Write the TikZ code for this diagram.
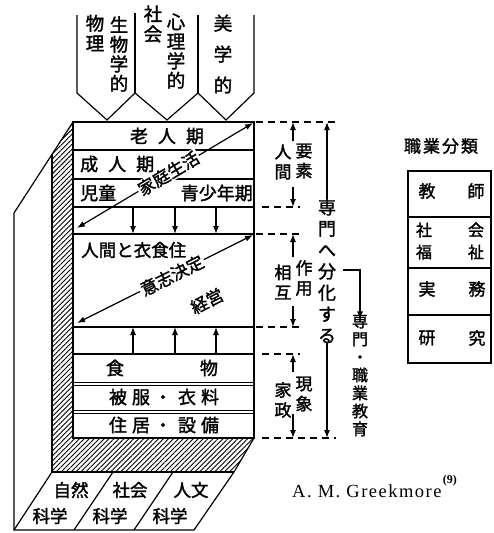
\documentclass[tikz,border=0pt]{standalone}
\usepackage{fontspec}
\setmainfont{Liberation Serif}
\newfontfamily\jp{Noto Sans CJK JP}[FakeBold=1.7]
\usetikzlibrary{arrows.meta,patterns.meta}
\begin{document}
\begin{tikzpicture}[x=1pt,y=-1pt,
  ln/.style={line width=1.2pt},
  jt/.style={font=\jp\fontsize{18}{20}\selectfont, inner sep=0pt},
  vt/.style={font=\jp\fontsize{17}{20}\selectfont, align=center, inner sep=0pt},
  arr/.style={line width=1.2pt, -{Latex[length=8pt,width=6pt]}},
  darr/.style={line width=1.2pt, {Latex[length=8pt,width=6pt]}-{Latex[length=8pt,width=6pt]}},
  dsh/.style={line width=1.2pt, dash pattern=on 7pt off 5pt},
  hatch/.style={pattern={Lines[angle=45,distance=3.5pt,line width=0.9pt]}}]
\useasboundingbox (0,0) rectangle (493,533);

% ---- hatched frame
\fill[hatch] (73,122) -- (52,154) -- (52,472) -- (234,472) -- (254,438) -- (73,438) -- cycle;
\draw[ln] (73,122) -- (14,213) -- (14,530) -- (194,530) -- (234,472) -- (254,438);
\draw[ln] (52,154) -- (52,472) -- (234,472);

% ---- inner box
\draw[ln] (73,122) -- (254,122) -- (254,438) -- (73,438) -- cycle;
\foreach \yy in {150,179,207,234,327,354} \draw[ln] (73,\yy) -- (254,\yy);
\foreach \yy in {382,385,410,413} \draw[line width=1pt] (73,\yy) -- (254,\yy);

% ---- top flags
\draw[ln] (77,15) -- (77,93) -- (107,120) -- (135,93) -- (167,120) -- (198,93) -- (226,120) -- (254,93) -- (254,15);
\draw[ln] (135,13) -- (135,93);
\draw[ln] (198,15) -- (198,93);
\node[vt,font=\jp\fontsize{18.5}{20}\selectfont] (p1) at (95,33) {物\\理};
\node[vt,font=\jp\fontsize{18.5}{19.5}\selectfont] (p2) at (119,54) {生\\物\\学\\的};
\node[vt,font=\jp\fontsize{18.5}{20}\selectfont] (p3) at (153,24) {社\\会};
\node[vt,font=\jp\fontsize{18.5}{19.5}\selectfont] (p4) at (176,51) {心\\理\\学\\的};
\node[vt,font=\jp\fontsize{18.5}{31}\selectfont] (p5) at (223,54) {美\\学\\的};

% ---- row texts
\node[jt] (r1) at (167,136) {老\hspace{10pt}人\hspace{10pt}期};
\node[jt,anchor=west] (r2) at (80,164) {成\hspace{10pt}人\hspace{10pt}期};
\node[jt,anchor=west] (r3a) at (80,193) {児童};
\node[jt,anchor=east] (r3b) at (253,193) {青少年期};
\node[jt,anchor=west,font=\jp\fontsize{17.5}{20}\selectfont] (r4) at (81,250) {人間と衣食住};
\node[jt] (r5a) at (115,368) {食};
\node[jt] (r5b) at (209,368) {物};
\node[jt] (r6) at (164,397) {被\hspace{5pt}服\hspace{4pt}・\hspace{6pt}衣\hspace{5pt}料};
\node[jt] (r7) at (164,425) {住\hspace{5pt}居\hspace{4pt}・\hspace{6pt}設\hspace{5pt}備};

% ---- diagonal arrows
\coordinate (d1a) at (77,228); \coordinate (d1b) at (253,123);
\draw[darr] (d1a) -- node[pos=0.52,sloped,fill=white,jt,inner sep=1pt,font=\jp\fontsize{17}{20}\selectfont] (t1) {家庭生活} (d1b);
\coordinate (d2a) at (77,323); \coordinate (d2b) at (253,235);
\draw[darr] (d2a) -- node[pos=0.54,sloped,fill=white,jt,inner sep=1.5pt,font=\jp\fontsize{17}{20}\selectfont] (t2) {意志決定} (d2b);
\node[jt,rotate=27,font=\jp\fontsize{17}{20}\selectfont] (t3) at (207,301) {経営};

% ---- vertical small arrows
\foreach \xx [count=\i] in {133,175,216} {
  \coordinate (da\i) at (\xx,207); \coordinate (db\i) at (\xx,234);
  \draw[arr] (da\i) -- (db\i);
  \coordinate (ua\i) at (\xx,354); \coordinate (ub\i) at (\xx,327);
  \draw[arr] (ua\i) -- (ub\i);
}

% ---- dashed guide lines
\coordinate (g0a) at (256,122); \coordinate (g0b) at (338,122);
\coordinate (g1a) at (262,207); \coordinate (g1b) at (300,207);
\coordinate (g2a) at (256,234); \coordinate (g2b) at (300,234);
\coordinate (g3a) at (256,327); \coordinate (g3b) at (300,327);
\coordinate (g4a) at (262,354); \coordinate (g4b) at (300,354);
\coordinate (g5a) at (262,438); \coordinate (g5b) at (336,438);
\foreach \g in {0,...,5} \draw[dsh] (g\g a) -- (g\g b);

% ---- bracket labels
\node[vt] (l1a) at (283,162) {人\\間};
\node[vt] (l1b) at (304,161) {要\\素};
\node[vt] (l2a) at (283,282) {相\\互};
\node[vt] (l2b) at (304,278) {作\\用};
\node[vt] (l3a) at (283,400) {家\\政};
\node[vt] (l3b) at (304,394) {現\\象};
\coordinate (b1t) at (293,141); \coordinate (b1u) at (293,122);
\coordinate (b1s) at (293,187); \coordinate (b1d) at (293,207);
\coordinate (b2t) at (293,257); \coordinate (b2u) at (293,234);
\coordinate (b2s) at (293,306); \coordinate (b2d) at (293,327);
\coordinate (b3t) at (293,372); \coordinate (b3u) at (293,354);
\coordinate (b3s) at (293,414); \coordinate (b3d) at (293,438);
\foreach \b in {1,2,3} {\draw[arr] (b\b t) -- (b\b u); \draw[arr] (b\b s) -- (b\b d);}

% ---- big arrow
\node[vt,font=\jp\fontsize{18}{21.4}\selectfont] (big) at (327,271) {専\\門\\へ\\分\\化\\す\\る};
\coordinate (bigu) at (327,122); \coordinate (bigd) at (327,438);
\draw[arr] (big.north) -- (bigu);
\draw[arr] (big.south) -- (bigd);
\coordinate (brs) at (343,270);
\node[vt,font=\jp\fontsize{16}{18}\selectfont] (sp) at (360,375) {専\\門\\・\\職\\業\\教\\育};
\draw[arr] (brs) -| ([yshift=-6pt]sp.north);

% ---- bottom parallelogram
\draw[ln] (52,472) -- (14,530);
\draw[ln] (113,472) -- (74,530);
\draw[ln] (173,472) -- (134,530);
\node[jt,font=\jp\fontsize{17.5}{20}\selectfont] (s1a) at (71,490) {自然};
\node[jt,font=\jp\fontsize{17.5}{20}\selectfont] (s1b) at (50,516) {科学};
\node[jt,font=\jp\fontsize{17.5}{20}\selectfont] (s2a) at (130,490) {社会};
\node[jt,font=\jp\fontsize{17.5}{20}\selectfont] (s2b) at (110,516) {科学};
\node[jt,font=\jp\fontsize{17.5}{20}\selectfont] (s3a) at (191,490) {人文};
\node[jt,font=\jp\fontsize{17.5}{20}\selectfont] (s3b) at (170,516) {科学};

% ---- occupation table
\node[jt,font=\jp\fontsize{17}{20}\selectfont] (tt) at (441,146) {職\hspace{2pt}業\hspace{2pt}分\hspace{2pt}類};
\draw[ln] (408,171) rectangle (491,363);
\foreach \yy in {217,268,315} \draw[ln] (408,\yy) -- (491,\yy);
\node[jt,font=\jp\fontsize{17}{20}\selectfont] (c1a) at (427,191) {教};
\node[jt,font=\jp\fontsize{17}{20}\selectfont] (c1b) at (476,191) {師};
\node[jt,font=\jp\fontsize{16}{20}\selectfont] (c2a) at (424,230) {社};
\node[jt,font=\jp\fontsize{16}{20}\selectfont] (c2b) at (476,230) {会};
\node[jt,font=\jp\fontsize{16}{20}\selectfont] (c2c) at (424,252) {福};
\node[jt,font=\jp\fontsize{16}{20}\selectfont] (c2d) at (476,252) {祉};
\node[jt,font=\jp\fontsize{17}{20}\selectfont] (c3a) at (427,289) {実};
\node[jt,font=\jp\fontsize{17}{20}\selectfont] (c3b) at (477,289) {務};
\node[jt,font=\jp\fontsize{17}{20}\selectfont] (c4a) at (427,338) {研};
\node[jt,font=\jp\fontsize{17}{20}\selectfont] (c4b) at (477,338) {究};

% ---- citation
\node[anchor=base west,inner sep=0pt,font=\fontsize{18.5}{20}\selectfont\addfontfeature{LetterSpace=8}] (cite) at (292,497) {A. M. Greekmore};
\node[anchor=west,inner sep=0pt,font=\fontsize{12}{13}\selectfont\bfseries] (citeno) at ([xshift=1pt]cite.east |- 0,481) {(9)};
\end{tikzpicture}
\end{document}
